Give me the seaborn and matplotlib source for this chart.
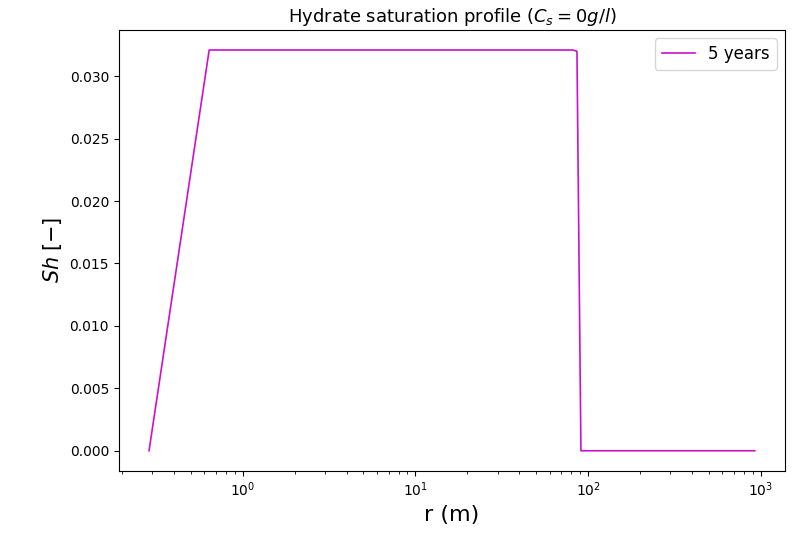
import matplotlib
matplotlib.use("Agg")
import matplotlib.pyplot as plt
import seaborn as sns

# Data
r_m = [0.287, 0.640, 81.5, 86.3, 91.0, 924.0]
sh_5years = [0.0, 0.0321, 0.0321, 0.0320, 0.0, 0.0]
series_label = "5 years"

fig, ax = plt.subplots(figsize=(7.97, 5.35), dpi=100)
fig.subplots_adjust(left=0.149, right=0.985, top=0.944, bottom=0.120)

sns.lineplot(x=r_m, y=sh_5years, ax=ax, color="#cc11cc", linewidth=1.2,
             label=series_label, sort=False)
ax.set_xscale("log")
ax.set_title(r"Hydrate saturation profile ($C_s = 0g/l$)", fontsize=13)
ax.set_xlabel("r (m)", fontsize=16)
ax.set_ylabel(r"$Sh\;[-]$", fontsize=15)
ax.legend(loc="upper right", fontsize=12)

fig.savefig("out.png", dpi=100)
